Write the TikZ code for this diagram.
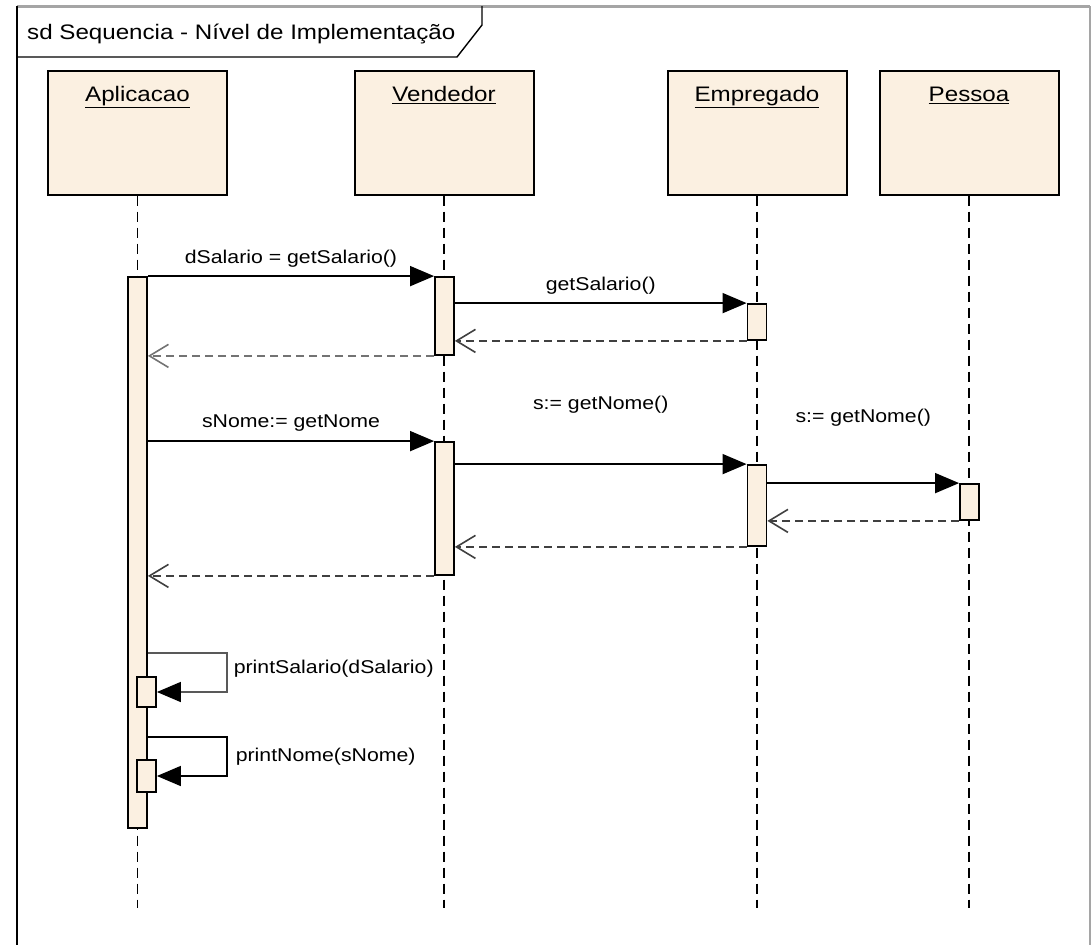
\documentclass[tikz,border=0pt]{standalone}
\usepackage{fontspec}
\setmainfont[FakeStretch=1.15]{Liberation Sans}
\usepackage{tikz}
\usetikzlibrary{arrows.meta, positioning}
\usepackage{xcolor}
\definecolor{objfill}{RGB}{251,240,225}
\definecolor{framegray}{RGB}{165,165,165}

\begin{document}
\begin{tikzpicture}[%
        x=1pt, y=-1pt,                          % Pixel grid, y going down
        font=\fontsize{18.5}{22}\selectfont,    % Message labels
    ]
    \tikzset{
        obj/.style={draw, fill=objfill, line width=2pt, minimum width=179pt, minimum height=124pt},
        objname/.style={inner sep=0pt, font=\fontsize{21}{25}\selectfont},
        % act node style is used for the activation bars
        act/.style={draw, fill=objfill, line width=1.8pt, minimum width=19pt, inner sep=0pt},
        lbl/.style={inner sep=0pt},
        % -------------------------------------------------
        % Line styles for lifelines, calls and returns
        life/.style={draw, line width=1.8pt, dash pattern=on 10pt off 6pt},
        msg/.style={draw, line width=1.6pt, -{Triangle[length=24pt, width=20pt, color=black]}},
        ret/.style={draw, line width=1.6pt, black!75, dash pattern=on 8pt off 5pt,
            -{Straight Barb[length=19pt, width=23pt]}},
    }
    \useasboundingbox (0,0) rectangle (1092,945);
    %%% Frame
    \draw [framegray, line width=3pt] (17,6) -- (1090,6);
    \draw [framegray, line width=2pt] (1090,6) -- (1090,945);
    \draw [line width=2pt] (17,6) -- (17,945);
    \draw [line width=1.4pt] (17,57) -- (457,57) -- (482,25) -- (482,6);
    \node [lbl, anchor=base west, font=\fontsize{21}{25}\selectfont] (title) at (27,39) {
        sd Sequencia - Nível de Implementação
    };
    %%% Blocks
    \node [obj] (app)  at (137.5,132.5) {};
    \node [obj] (vend) at (444,132.5) {};
    \node [obj] (empr) at (757,132.5) {};
    \node [obj] (pess) at (969,132.5) {};
    \node [objname, below=17pt of app.north]  (appname)  {\underline{Aplicacao}};
    \node [objname, below=17pt of vend.north] (vendname) {\underline{Vendedor}};
    \node [objname, below=17pt of empr.north] (emprname) {\underline{Empregado}};
    \node [objname, below=17pt of pess.north] (pessname) {\underline{Pessoa}};
    %%% Nodes
    \coordinate (lend) at (0,908);
    \coordinate (loop1) at (227,653);
    \coordinate (loop2) at (227,737);
    % -- lifelines
    \draw [life] (app)  -- (app  |- lend);
    \draw [life] (vend) -- (vend |- lend);
    \draw [life] (empr) -- (empr |- lend);
    \draw [life] (pess) -- (pess |- lend);
    % -- activation bars
    \node [act, minimum height=551pt] (abar)  at (137.5,552.5) {};
    \node [act, minimum height=78pt]  (vbar1) at (444.5,316) {};
    \node [act, minimum height=36pt]  (ebar1) at (757,322) {};
    \node [act, minimum height=133pt] (vbar2) at (444.5,508.5) {};
    \node [act, minimum height=81pt]  (ebar2) at (757,505.5) {};
    \node [act, minimum height=36pt]  (pbar)  at (969.5,502) {};
    \node [act, minimum height=30pt]  (sbar1) at (146.5,692) {};
    \node [act, minimum height=32pt]  (sbar2) at (146.5,776) {};
    %%% Connectors
    % -- getSalario
    \draw [msg] (abar.east |- vbar1.north west) -- node [lbl, above=8pt] {dSalario = getSalario()} (vbar1.north west);
    \draw [msg] (vbar1.east |- ebar1.north west) -- node [lbl, above=8pt] {getSalario()} (ebar1.north west);
    \draw [ret] (ebar1.south west) -- (vbar1.east |- ebar1.south west);
    \draw [ret, black!55] (vbar1.south west) -- (abar.east |- vbar1.south west);
    % -- getNome
    \draw [msg] (abar.east |- vbar2.north west) -- node [lbl, above=9pt] {sNome:= getNome} (vbar2.north west);
    \draw [msg] (vbar2.east |- ebar2.north west) -- node [lbl, above=50pt] {s:= getNome()} (ebar2.north west);
    \draw [msg] (ebar2.east |- pbar.north west) -- node [lbl, above=56pt] {s:= getNome()} (pbar.north west);
    \draw [ret] (pbar.south west) -- (ebar2.east |- pbar.south west);
    \draw [ret] (ebar2.south west) -- (vbar2.east |- ebar2.south west);
    \draw [ret] (vbar2.south west) -- (abar.east |- vbar2.south west);
    % -- self calls
    \draw [msg, black!65] (abar.east |- loop1) -- (loop1) |- node [lbl, right=6pt, pos=0.2, black] {printSalario(dSalario)} (sbar1.east);
    \draw [msg] (abar.east |- loop2) -- (loop2) |- node [lbl, right=8pt, pos=0.25] {printNome(sNome)} (sbar2.east);
\end{tikzpicture}
\end{document}
